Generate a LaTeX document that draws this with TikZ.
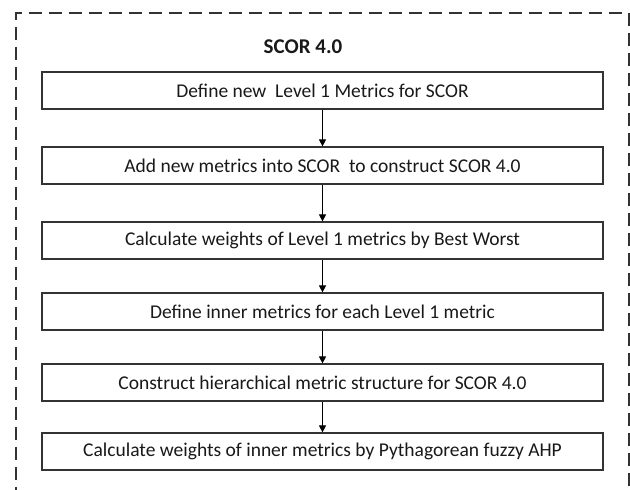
\documentclass[tikz,border=0pt]{standalone}
\usepackage{fontspec}
\setmainfont{Carlito}
\usetikzlibrary{arrows.meta}

\tikzset{
	stepbox/.style={draw=black!80, line width=1.2pt, minimum width=561pt, minimum height=37pt, inner sep=0pt, font=\fontsize{19.5}{22}\selectfont, text=black!90},
	flow/.style={line width=0.9pt, -{Triangle[length=7pt,width=7pt]}}
}

\begin{document}
\begin{tikzpicture}[x=1pt,y=-1pt]
		\clip (0,0) rectangle (630,490);
		\fill[white] (0,0) rectangle (630,490);
		\draw[black!80, line width=1.4pt, dash pattern=on 13pt off 7pt] (16,520) -- (16,13) -- (629,13) -- (629,520);
		\node[font=\fontsize{21}{24}\selectfont\bfseries, text=black!90] (title) at (303,47){SCOR 4.0};
		\node[stepbox] (s1) at (322.5,90.5){Define new\ \ Level 1 Metrics for SCOR};
		\node[stepbox] (s2) at (322.5,165.5){Add new metrics into SCOR\ \ to construct SCOR 4.0};
		\node[stepbox] (s3) at (322.5,240.5){Calculate weights of Level 1 metrics by Best Worst};
		\node[stepbox] (s4) at (322.5,311.5){Define inner metrics for each Level 1 metric};
		\node[stepbox] (s5) at (322.5,382.5){Construct hierarchical metric structure for SCOR 4.0};
		\node[stepbox] (s6) at (322.5,451.5){Calculate weights of inner metrics by Pythagorean fuzzy AHP};
		\draw[flow] (s1) -- (s2);
		\draw[flow] (s2) -- (s3);
		\draw[flow] (s3) -- (s4);
		\draw[flow] (s4) -- (s5);
		\draw[flow] (s5) -- (s6);
\end{tikzpicture}
\end{document}
